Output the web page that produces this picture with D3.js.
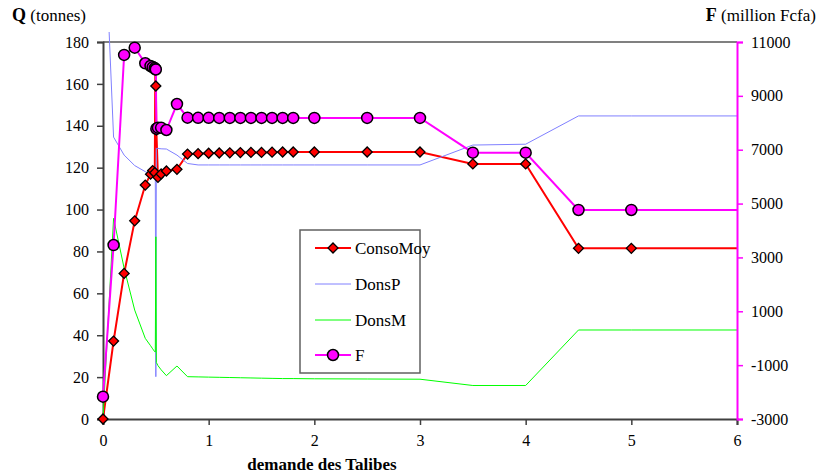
<!DOCTYPE html>
<html><head><meta charset="utf-8">
<script src="https://cdn.jsdelivr.net/npm/d3@7"></script>
<style>body{margin:0;background:#fff}svg{display:block}</style>
</head><body><svg id="c" width="817" height="475"></svg>
<script>
const demande = [0,0.1,0.2,0.3,0.4,0.45,0.47,0.49,0.495,0.5,0.505,0.52,0.55,0.6,0.7,0.8,0.9,1.0,1.1,1.2,1.3,1.4,1.5,1.6,1.7,1.8,2,2.5,3,3.5,4,4.5,5,7];
const consoMoy = [0,37.2,69.5,94.6,111.7,116.9,118.6,117.6,168,159,138,115.4,117,118.4,119.2,126.5,126.7,126.9,127,127.1,127.2,127.3,127.3,127.4,127.5,127.5,127.5,127.5,127.5,121.8,121.8,81.5,81.5,81.5];
const donsP = [254,134.6,126,121,118.1,117,116.5,116,116,20.2,129.2,129.2,129,128.9,126,122,121.3,121.3,121.3,121.3,121.3,121.3,121.3,121.3,121.3,121.3,121.3,121.3,121.3,130.8,131.2,144.7,144.7,144.7];
const donsM = [0,95.8,72,52,38.5,35,33.5,32.1,32,87,27,25.5,23.5,20.7,25.3,20.2,20.1,20,19.9,19.8,19.7,19.6,19.5,19.4,19.3,19.3,19.2,19.1,19,16,16,42.5,42.5,42.5];
const F = [-2170,3460,10520,10790,10210,10110,10060,10030,9990,9980,7780,7818,7818,7732,8697,8190,8185,8183,8182,8181,8180,8180,8180,8180,8180,8180,8180,8180,8180,6889,6889,4762,4762,4762];
const xTicks = [0,1,2,3,4,5,6];
const qTicks = [0,20,40,60,80,100,120,140,160,180];
const fTicks = [-3000,-1000,1000,3000,5000,7000,9000,11000];
const legendNames = ["ConsoMoy","DonsP","DonsM","F"];

const FONT = '"Liberation Serif"';
const svg = d3.select("#c");
const L=103,R=737,T=42,B=419;
const x = d3.scaleLinear().domain([0,6]).range([L,R]);
const yQ = d3.scaleLinear().domain([0,180]).range([B,T]);
const yF = d3.scaleLinear().domain([-3000,11000]).range([B,T]);
const fmt = d => String(d);

svg.append("defs").append("clipPath").attr("id","clip")
  .append("rect").attr("x",0).attr("y",32).attr("width",R).attr("height",B-32+10);

svg.append("line").attr("x1",L).attr("x2",R).attr("y1",T).attr("y2",T).attr("stroke","#808080").attr("stroke-width",2);

const fs=16;
const styleAxis = (g, col) => {
  g.select(".domain").attr("stroke",col).attr("stroke-width",2);
  g.selectAll(".tick line").attr("stroke",col).attr("stroke-width",1.5);
  g.selectAll("text").style("font-family",FONT).style("font-size",fs+"px").attr("fill","#000");
};
const gl = svg.append("g").attr("transform",`translate(${L},0)`)
  .call(d3.axisLeft(yQ).tickValues(qTicks).tickSize(6).tickPadding(8).tickFormat(fmt));
styleAxis(gl,"#404040");

const gb = svg.append("g").attr("transform",`translate(0,${B})`)
  .call(d3.axisBottom(x).tickValues(xTicks).tickSize(6).tickPadding(10).tickFormat(fmt));
styleAxis(gb,"#404040");

const line = (ys, sc) => d3.line().x((d,i)=>x(demande[i])).y((d,i)=>sc(ys[i]))(ys);
const plot = svg.append("g").attr("clip-path","url(#clip)");

plot.append("path").attr("d",line(consoMoy,yQ)).attr("fill","none").attr("stroke","#ff0000").attr("stroke-width",2);
svg.append("g").selectAll("path").data(consoMoy.map((v,i)=>[demande[i],v]).filter(d=>d[0]<=6))
  .join("path").attr("d",d3.symbol().type(d3.symbolSquare).size(50))
  .attr("transform",d=>`translate(${x(d[0])},${yQ(d[1])}) rotate(45)`)
  .attr("fill","#ff0000").attr("stroke","#000").attr("stroke-width",1.3);

plot.append("path").attr("d",line(donsP,yQ)).attr("fill","none").attr("stroke","#8080ff").attr("stroke-width",1);
plot.append("path").attr("d",line(donsM,yQ)).attr("fill","none").attr("stroke","#00ff00").attr("stroke-width",1);
plot.append("path").attr("d",line(F,yF)).attr("fill","none").attr("stroke","#ff00ff").attr("stroke-width",2);
svg.append("g").selectAll("circle").data(F.map((v,i)=>[demande[i],v]).filter(d=>d[0]<=6))
  .join("circle").attr("cx",d=>x(d[0])).attr("cy",d=>yF(d[1])).attr("r",5.5)
  .attr("fill","#ff00ff").attr("stroke","#000").attr("stroke-width",1.5);

const gr = svg.append("g").attr("transform",`translate(${R},0)`)
  .call(d3.axisRight(yF).tickValues(fTicks).tickSize(6).tickPadding(8).tickFormat(fmt));
styleAxis(gr,"#ff00ff");

const t1 = svg.append("text").attr("x",12).attr("y",21).style("font-family",FONT).style("font-size","17px");
t1.append("tspan").attr("font-weight","bold").style("font-size","18px").text("Q");
t1.append("tspan").text(" (tonnes)");
const t2 = svg.append("text").attr("x",816).attr("y",21).attr("text-anchor","end").style("font-family",FONT).style("font-size","17px");
t2.append("tspan").attr("font-weight","bold").style("font-size","18px").text("F");
t2.append("tspan").text(" (million Fcfa)");
svg.append("text").attr("x",322).attr("y",470).attr("text-anchor","middle").attr("font-weight","bold")
  .style("font-family",FONT).style("font-size","17px").text("demande des Talibes");

const lg = svg.append("g");
lg.append("rect").attr("x",300).attr("y",230).attr("width",120).attr("height",143).attr("fill","#fff").attr("stroke","#606060").attr("stroke-width",1.5);
const ly=[248,284,320,355];
const lcol=["#ff0000","#8080ff","#00ff00","#ff00ff"];
const lw=[2,1,1,2];
legendNames.forEach((n,i)=>{
  lg.append("line").attr("x1",315).attr("x2",351).attr("y1",ly[i]).attr("y2",ly[i]).attr("stroke",lcol[i]).attr("stroke-width",lw[i]);
  if(i===0) lg.append("path").attr("d",d3.symbol().type(d3.symbolSquare).size(50)).attr("transform",`translate(333,${ly[i]}) rotate(45)`).attr("fill","#ff0000").attr("stroke","#000").attr("stroke-width",1.3);
  if(i===3) lg.append("circle").attr("cx",333).attr("cy",ly[i]).attr("r",5.5).attr("fill","#ff00ff").attr("stroke","#000").attr("stroke-width",1.5);
  lg.append("text").attr("x",355).attr("y",ly[i]).attr("dy","0.35em").style("font-family",FONT).style("font-size","17px").text(n);
});
</script></body></html>
